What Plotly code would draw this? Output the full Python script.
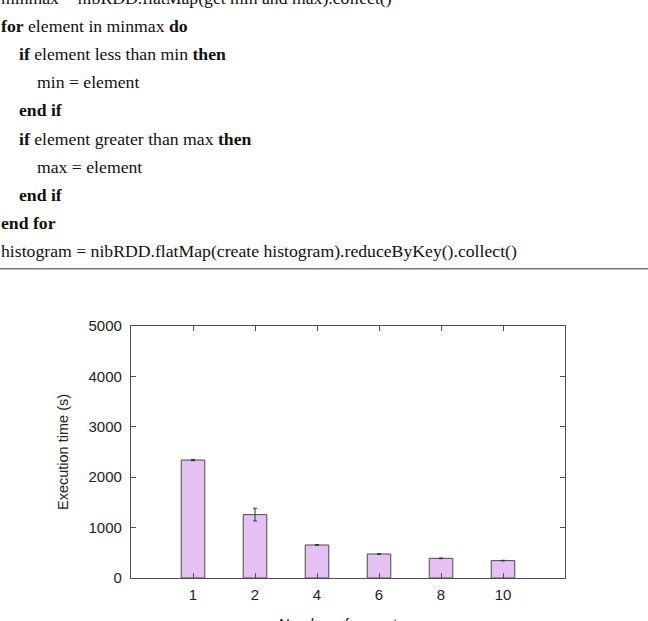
import plotly.graph_objects as go

# ---- data ----
executors = ["1", "2", "4", "6", "8", "10"]
exec_time = [2340, 1258, 655, 476, 390, 345]
exec_err = [12, 126, 8, 7, 6, 6]
y_ticks = [0, 1000, 2000, 3000, 4000, 5000]

algo_lines = [
    (0, "minmax = nibRDD.flatMap(get min and max).collect()"),
    (0, "<b>for</b> element in minmax <b>do</b>"),
    (1, "<b>if</b> element less than min <b>then</b>"),
    (2, "min = element"),
    (1, "<b>end if</b>"),
    (1, "<b>if</b> element greater than max <b>then</b>"),
    (2, "max = element"),
    (1, "<b>end if</b>"),
    (0, "<b>end for</b>"),
    (0, "histogram = nibRDD.flatMap(create histogram).reduceByKey().collect()"),
]

W, H = 648, 621
L, R, T, B = 131, 565, 326, 578


def px(x):
    return (x - L) / (R - L)


def py(y):
    return (B - y) / (B - T)


fig = go.Figure()
fig.add_trace(go.Bar(
    x=executors, y=exec_time, width=0.38,
    marker=dict(color="#e5c1f3", line=dict(color="#4a4a4a", width=1)),
    error_y=dict(type="data", array=exec_err, visible=True,
                 color="#333333", thickness=1, width=2),
    showlegend=False,
))

annotations = []
baseline0 = 4
spacing = 28.1
fs = 17.7
for i, (indent, txt) in enumerate(algo_lines):
    base = baseline0 + i * spacing
    annotations.append(dict(
        text=txt, xref="paper", yref="paper",
        x=px(indent * 18 - 1), y=py(base - 6),
        xanchor="left", yanchor="middle", showarrow=False,
        font=dict(family="Liberation Serif", size=fs, color="#111111"),
    ))

annotations.append(dict(
    text="Execution time (s)", xref="paper", yref="paper",
    x=px(63), y=py(452), textangle=-90, showarrow=False,
    xanchor="center", yanchor="middle",
    font=dict(family="Liberation Sans", size=14.5, color="#222222"),
))
annotations.append(dict(
    text="Number of executors", xref="paper", yref="paper",
    x=px(348), y=py(613), showarrow=False,
    xanchor="center", yanchor="top",
    font=dict(family="Liberation Sans", size=15, color="#222222"),
))

fig.update_layout(
    width=W, height=H,
    margin=dict(l=L, r=W - R, t=T, b=H - B, pad=0),
    paper_bgcolor="white", plot_bgcolor="white",
    annotations=annotations,
    shapes=[dict(type="line", xref="paper", yref="paper",
                 x0=px(0), x1=px(W), y0=py(268.7), y1=py(268.7),
                 line=dict(color="#777777", width=1.5))],
    xaxis=dict(type="category", range=[-1, 6], showgrid=False, zeroline=False,
               showline=True, linecolor="#4f4f4f", linewidth=1.2, mirror="ticks",
               ticks="inside", ticklen=5, tickcolor="#4f4f4f",
               ticklabelstandoff=3,
               tickfont=dict(family="Liberation Sans", size=15, color="#222222")),
    yaxis=dict(range=[0, 5000], tickvals=y_ticks, showgrid=False, zeroline=False,
               showline=True, linecolor="#4f4f4f", linewidth=1.2, mirror="ticks",
               ticks="inside", ticklen=5, tickcolor="#4f4f4f",
               ticklabelstandoff=5,
               tickfont=dict(family="Liberation Sans", size=15, color="#222222")),
)

fig.write_html("out.html")
